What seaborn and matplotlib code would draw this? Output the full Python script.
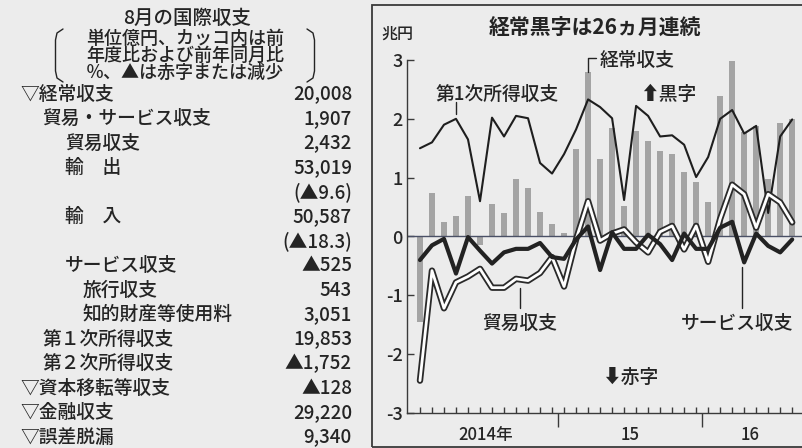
import matplotlib
matplotlib.use('Agg')
import matplotlib.pyplot as plt
import matplotlib.patheffects as pe
from matplotlib.lines import Line2D
from matplotlib.patches import Rectangle
import numpy as np
import pandas as pd
import seaborn as sns

# monthly balances, trillion yen (Jan 2014 - Aug 2016)
months = pd.date_range('2014-01-01', periods=32, freq='MS')
current_account = [-1.46, 0.74, 0.24, 0.34, 0.69, -0.15, 0.55, 0.40, 0.98, 0.83, 0.42, 0.22,
                   0.06, 1.49, 2.80, 1.32, 1.85, 0.52, 1.80, 1.63, 1.46, 1.40, 1.10, 0.93,
                   0.58, 2.38, 2.98, 1.78, 1.88, 0.98, 1.93, 2.00]
trade_balance = [-2.45, -0.58, -1.22, -0.78, -0.68, -0.55, -0.87, -0.87, -0.72, -0.75, -0.62, -0.35,
                 -0.85, -0.05, 0.60, -0.07, 0.05, 0.12, -0.10, -0.27, 0.08, 0.18, -0.22, 0.18,
                 -0.43, 0.30, 0.88, 0.72, 0.15, 0.72, 0.58, 0.24]
services_balance = [-0.40, -0.15, -0.04, -0.63, -0.01, -0.24, -0.46, -0.27, -0.21, -0.21, -0.11, -0.35,
                    -0.38, -0.05, 0.17, -0.57, 0.07, -0.21, -0.21, 0.03, -0.13, -0.40, 0.05, -0.21,
                    -0.21, 0.15, 0.25, -0.44, 0.05, -0.16, -0.27, -0.05]
primary_income = [1.50, 1.60, 1.90, 2.00, 1.65, 0.60, 2.02, 1.70, 2.05, 2.01, 1.25, 1.07,
                  1.40, 1.82, 2.33, 2.20, 2.01, 0.62, 2.22, 2.05, 1.70, 1.72, 1.56, 1.01,
                  1.35, 2.00, 2.15, 1.75, 1.88, 0.40, 1.70, 1.99]
year_labels = ['2014年', '15', '16']
y_ticks = [-3, -2, -1, 0, 1, 2, 3]

# table on the left (億円)
table_title = '8月の国際収支'
table_note = ['単位億円、カッコ内は前', '年度比および前年同月比', '％、▲は赤字または減少']
table_labels = ['▽経常収支', '貿易・サービス収支', '貿易収支', '輸　出', '', '輸　入', '',
                'サービス収支', '旅行収支', '知的財産等使用料', '第１次所得収支', '第２次所得収支',
                '▽資本移転等収支', '▽金融収支', '▽誤差脱漏']
table_values = ['20,008', '1,907', '2,432', '53,019', '(▲9.6)', '50,587', '(▲18.3)',
                '▲525', '543', '3,051', '19,853', '▲1,752', '▲128', '29,220', '9,340']
table_levels = [0, 1, 2, 2, 2, 2, 2, 2, 3, 3, 1, 1, 0, 0, 0]

W, H = 803, 448
BG = '#ececec'
INK = '#242424'


def fx(px):
    return px / W


def fy(py):
    return 1 - py / H


sns.set_theme(style='white')
plt.rcParams['font.family'] = ['Noto Sans CJK JP', 'DejaVu Sans']
plt.rcParams['font.weight'] = 'medium'
plt.rcParams['text.color'] = INK

fig = plt.figure(figsize=(W / 100, H / 100), dpi=100, facecolor=BG)

# ---- left table ----
fig.text(fx(187), fy(18), table_title, ha='center', va='center', fontsize=14)
for i, line in enumerate(table_note):
    fig.text(fx(185), fy(39 + i * 17), line, ha='center', va='center', fontsize=13)
for xs in ([63, 57, 55.5, 55.5, 57, 63], [307, 313, 314.5, 314.5, 313, 307]):
    ys = [29, 33, 40, 71, 78, 82]
    fig.add_artist(Line2D([fx(v) for v in xs], [fy(v) for v in ys],
                          transform=fig.transFigure, color=INK, lw=1.0))

indent = {0: 20, 1: 42, 2: 65, 3: 83}
for i, (lab, val) in enumerate(zip(table_labels, table_values)):
    yy = 94 + i * 24.5
    if lab:
        fig.text(fx(indent[table_levels[i]]), fy(yy), lab, ha='left', va='center', fontsize=13.5)
    fig.text(fx(352), fy(yy), val, ha='right', va='center', fontsize=13.5)

# ---- chart on the right ----
fig.add_artist(Rectangle((fx(372), fy(447)), 1, fy(5) - fy(447), transform=fig.transFigure,
                         fill=False, ec='#3a3a3a', lw=1.3))

ax = fig.add_axes([fx(407), fy(413), fx(803) - fx(407), fy(60) - fy(413)])
ax.set_facecolor('none')

df = pd.DataFrame({'idx': np.arange(len(months)), 'month': months,
                   'current': current_account, 'trade': trade_balance,
                   'services': services_balance, 'primary': primary_income})

sns.barplot(data=df, x='idx', y='current', native_scale=True, width=0.45,
            color='#a4a4a4', saturation=1, edgecolor='none', ax=ax, zorder=1)
ax.axhline(0, color='#4a5066', lw=1.0, zorder=1.5)
sns.lineplot(data=df, x='idx', y='primary', color='#1e1e1e', lw=1.5, ax=ax, zorder=3)
sns.lineplot(data=df, x='idx', y='trade', color='white', lw=2.0, ax=ax, zorder=4,
             path_effects=[pe.Stroke(linewidth=4.6, foreground='#2a2a2a'), pe.Normal()])
sns.lineplot(data=df, x='idx', y='services', color='#222222', lw=3.0, ax=ax, zorder=5)

ax.set_xlim(-1.08, 31.9)
ax.set_ylim(-3, 3)
ax.set_xlabel('')
ax.set_ylabel('')
for s in ('top', 'right'):
    ax.spines[s].set_visible(False)
for s in ('left', 'bottom'):
    ax.spines[s].set_color('#3a3a3a')
    ax.spines[s].set_linewidth(1.0)

ax.set_yticks(y_ticks)
ax.set_yticklabels([str(v) for v in y_ticks])
ax.tick_params(axis='y', direction='in', length=5, width=1, color='#3a3a3a',
               labelsize=13, pad=3, left=True)

# year labels at the middle of each year, month ticks inside
years = df['month'].dt.year
centers = df.groupby(years)['idx'].mean().values
bounds = df['idx'][years.diff() > 0].values - 0.5
ax.set_xticks(centers)
ax.set_xticklabels(year_labels)
ax.set_xticks(df['idx'], minor=True)
ax.tick_params(axis='x', which='major', length=0, labelsize=12, pad=9)
ax.tick_params(axis='x', which='minor', direction='in', length=4, width=1,
               color='#3a3a3a', bottom=True)
sec = ax.secondary_xaxis('bottom')
sec.set_xticks(bounds)
sec.set_xticklabels([])
sec.tick_params(direction='out', length=10, width=1, color='#3a3a3a')
sec.spines['bottom'].set_visible(False)

# annotations
fs = 13.5
ax.text(-1.9, 3.44, '兆円', ha='center', va='center', fontsize=11.5, clip_on=False)
fig.text(fx(595), fy(27), '経常黒字は26ヵ月連続', ha='center', va='center',
         fontsize=15, fontweight='bold')

i_ca = int(np.argmax(current_account[12:24])) + 12
ax.plot([i_ca, i_ca, i_ca + 0.7], [current_account[i_ca], 3.03, 3.03],
        color=INK, lw=1.0, clip_on=False, zorder=6)
ax.text(i_ca + 0.95, 3.0, '経常収支', ha='left', va='center', fontsize=fs, clip_on=False)

ax.plot([3, 3], [primary_income[3] + 0.08, primary_income[3] + 0.28], color=INK, lw=1.0)
ax.text(6.4, 2.42, '第1次所得収支', ha='center', va='center', fontsize=fs)

ax.text(18.3, 2.42, '⬆黒字', ha='left', va='center', fontsize=fs)
ax.text(15.2, -2.39, '⬇赤字', ha='left', va='center', fontsize=fs)

ax.plot([8.33, 8.33], [trade_balance[8] - 0.15, -1.22], color=INK, lw=1.0)
ax.text(8.33, -1.47, '貿易収支', ha='center', va='center', fontsize=fs)

ax.plot([26.8, 26.8], [services_balance[27] - 0.08, -1.22], color=INK, lw=1.0)
ax.text(26.4, -1.47, 'サービス収支', ha='center', va='center', fontsize=fs, clip_on=False)

fig.savefig('out.png', dpi=100, facecolor=BG)
